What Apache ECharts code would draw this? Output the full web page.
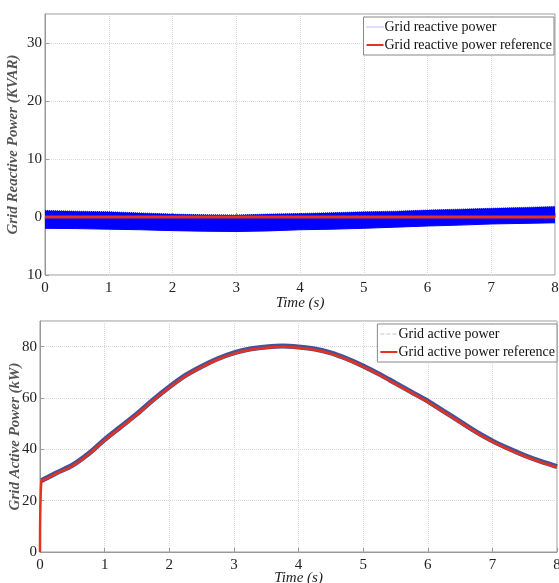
<!DOCTYPE html>
<html>
<head>
<meta charset="utf-8">
<script src="https://cdn.jsdelivr.net/npm/echarts@6/dist/echarts.min.js"></script>
<style>
  html, body { margin: 0; padding: 0; background: #fff; }
  #chart { width: 559px; height: 583px; }
</style>
</head>
<body>
<div id="chart"></div>
<script>
// top panel: reactive power (envelope of the noisy band)
const reactiveTime = [0, 0.5, 1, 1.5, 2, 2.5, 3, 3.5, 4, 4.5, 5, 5.5, 6, 6.5, 7, 7.5, 8]
const reactiveUpper = [1.1, 1.0, 0.9, 0.7, 0.5, 0.4, 0.35, 0.5, 0.6, 0.75, 0.9, 1.0, 1.2, 1.35, 1.5, 1.65, 1.8]
const reactiveLower = [-1.95, -2.0, -2.1, -2.2, -2.35, -2.45, -2.5, -2.4, -2.2, -2.1, -1.95, -1.75, -1.55, -1.4, -1.2, -1.1, -1.0]
const reactiveRef = [0, 0, 0, 0, 0, 0, 0, 0, 0, 0, 0, 0, 0, 0, 0, 0, 0]

// bottom panel: active power
const activeTime = [0, 0.02, 0.1, 0.25, 0.5, 0.75, 1, 1.25, 1.5, 1.75, 2, 2.25, 2.5, 2.75, 3, 3.25, 3.5, 3.75, 4, 4.25, 4.5, 4.75, 5, 5.25, 5.5, 5.75, 6, 6.25, 6.5, 6.75, 7, 7.25, 7.5, 7.75, 8]
const activeRef = [0, 27.5, 28.5, 30.5, 33.5, 38, 43.5, 48.5, 53.5, 59, 64, 68.5, 72, 75, 77.3, 78.8, 79.6, 80, 79.6, 78.8, 77.3, 75, 72.2, 69, 65.5, 62, 58.5, 54.5, 50.5, 46.5, 43, 40, 37.3, 35, 33]
const activeMeas = [null, 27.8, 28.8, 30.8, 33.8, 38.3, 43.8, 48.8, 53.8, 59.3, 64.3, 68.8, 72.3, 75.3, 77.6, 79.1, 79.9, 80.3, 79.9, 79.1, 77.6, 75.3, 72.5, 69.3, 65.8, 62.3, 58.8, 54.8, 50.8, 46.8, 43.3, 40.3, 37.6, 35.3, 33.3]

const xTicks = { min: 0, max: 8, interval: 1 }

function pairs(xs, ys) {
  return xs.map((x, i) => [x, ys[i]]).filter(p => p[1] !== null)
}

const serif = '"Liberation Serif", "DejaVu Serif", serif'
const gridLine = { show: true, lineStyle: { color: '#d8d8d8', type: 'dotted', width: 1 } }
const axisLine = { show: true, lineStyle: { color: '#999', width: 1 } }
const tick = { show: true, inside: true, length: 4, lineStyle: { color: '#999' } }
const tickLabel = { color: '#222', fontFamily: serif, fontSize: 15 }

function xAxis(gridIndex, gap) {
  return {
    type: 'value',
    gridIndex,
    ...xTicks,
    name: 'Time (s)',
    nameLocation: 'middle',
    nameGap: gap,
    nameMoveOverlap: false,
    nameTextStyle: { fontFamily: serif, fontStyle: 'italic', fontSize: 15, color: '#222' },
    axisLine, axisTick: tick,
    axisLabel: { ...tickLabel, margin: 6 },
    splitLine: gridLine,
  }
}

function legend(top, right, items) {
  return {
    orient: 'vertical', right, top,
    itemWidth: 17, itemHeight: 4, itemGap: 4,
    padding: [3, 2, 3, 2],
    backgroundColor: '#fff', borderColor: '#888', borderWidth: 1, borderRadius: 0,
    textStyle: { fontFamily: serif, fontSize: 14, color: '#111', padding: [0, 0, 0, -4] },
    data: items,
  }
}

const chart = echarts.init(document.getElementById('chart'))

chart.setOption({
  backgroundColor: '#fff',
  animation: false,
  grid: [
    { left: 45, right: 4, top: 14, height: 261, show: true, borderColor: '#999', borderWidth: 1, outerBoundsMode: 'none', containLabel: false },
    { left: 40, right: 2, top: 321, height: 231, show: true, borderColor: '#999', borderWidth: 1, outerBoundsMode: 'none', containLabel: false },
  ],
  legend: [
    legend(17, 5, [
      { name: 'Grid reactive power', lineStyle: { type: 'dotted', color: '#7d7dff', width: 1 }, itemStyle: { opacity: 0 } },
      { name: 'Grid reactive power reference', itemStyle: { opacity: 0 } },
    ]),
    legend(324, 2, [
      { name: 'Grid active power', lineStyle: { type: 'dashed', color: '#b4bce0', width: 1 }, itemStyle: { opacity: 0 } },
      { name: 'Grid active power reference', itemStyle: { opacity: 0 } },
    ]),
  ],
  xAxis: [xAxis(0, 21), xAxis(1, 19)],
  yAxis: [
    {
      type: 'value', gridIndex: 0, min: -10, max: 35, interval: 10,
      name: 'Grid Reactive Power (KVAR)', nameLocation: 'middle', nameGap: 24,
      nameMoveOverlap: false,
      nameTextStyle: { fontFamily: serif, fontStyle: 'italic', fontWeight: 'bold', fontSize: 15, color: '#555' },
      axisLine, axisTick: tick,
      axisLabel: { ...tickLabel, margin: 3, showMaxLabel: false, formatter: v => String(Math.abs(v)) },
      splitLine: gridLine,
    },
    {
      type: 'value', gridIndex: 1, min: 0, max: 90, interval: 20,
      name: 'Grid Active Power (kW)', nameLocation: 'middle', nameGap: 17,
      nameMoveOverlap: false,
      nameTextStyle: { fontFamily: serif, fontStyle: 'italic', fontWeight: 'bold', fontSize: 15, color: '#555' },
      axisLine, axisTick: tick,
      axisLabel: { ...tickLabel, margin: 3, showMaxLabel: false },
      splitLine: gridLine,
    },
  ],
  series: [
    {
      name: 'Grid reactive power',
      type: 'line', xAxisIndex: 0, yAxisIndex: 0,
      data: pairs(reactiveTime, reactiveUpper),
      symbol: 'none',
      lineStyle: { color: '#0000ff', width: 1, type: 'dotted' },
      itemStyle: { color: '#0000ff' },
      areaStyle: { color: '#0000ff', opacity: 1 },
    },
    {
      name: 'Grid reactive power (lower)',
      type: 'line', xAxisIndex: 0, yAxisIndex: 0,
      data: pairs(reactiveTime, reactiveLower),
      symbol: 'none',
      lineStyle: { color: '#0000ff', width: 1 },
      areaStyle: { color: '#0000ff', opacity: 1 },
    },
    {
      name: 'Grid reactive power reference',
      type: 'line', xAxisIndex: 0, yAxisIndex: 0,
      data: pairs(reactiveTime, reactiveRef),
      symbol: 'none',
      lineStyle: { color: '#e3321e', width: 3 },
      itemStyle: { color: '#e3321e' },
    },
    {
      name: 'Grid active power',
      type: 'line', xAxisIndex: 1, yAxisIndex: 1,
      data: pairs(activeTime, activeMeas),
      symbol: 'none', smooth: 0.3,
      lineStyle: { color: '#2f3f8f', width: 5, opacity: 0.9 },
      itemStyle: { color: '#2f3f8f' },
    },
    {
      name: 'Grid active power reference',
      type: 'line', xAxisIndex: 1, yAxisIndex: 1,
      data: pairs(activeTime, activeRef),
      symbol: 'none', smooth: 0.3,
      lineStyle: { color: '#e3321e', width: 2.5 },
      itemStyle: { color: '#e3321e' },
    },
  ],
})
</script>
</body>
</html>
